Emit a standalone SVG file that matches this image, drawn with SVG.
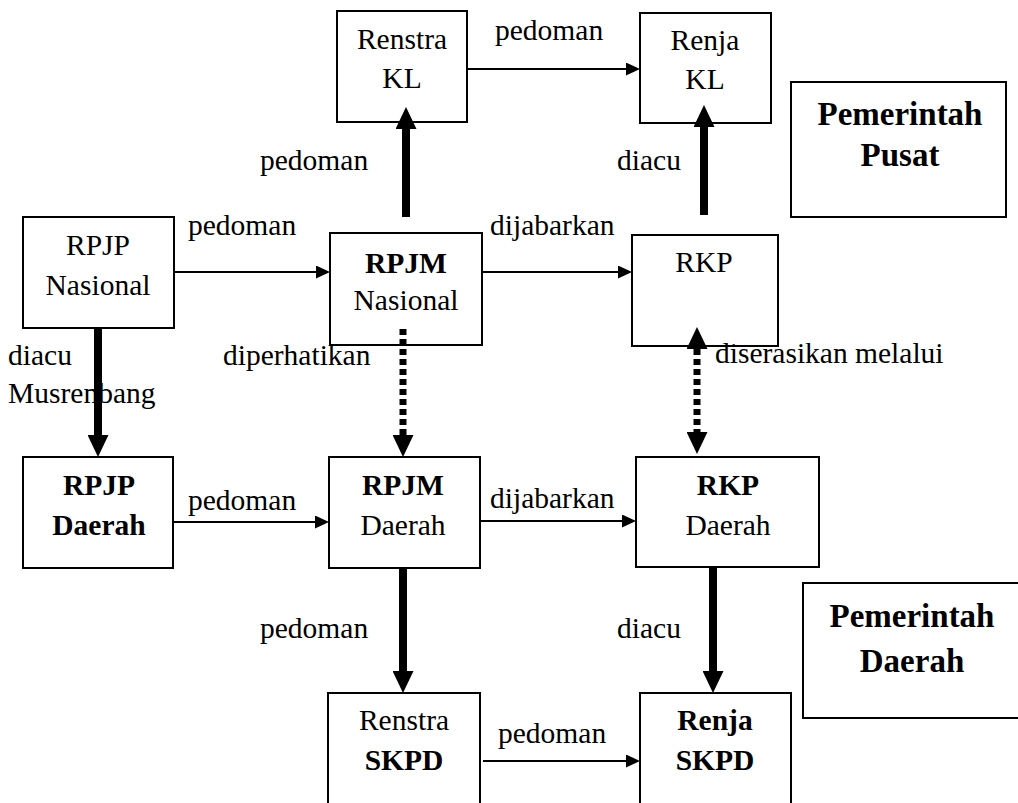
<svg xmlns="http://www.w3.org/2000/svg" width="1018" height="803" viewBox="0 0 1018 803" font-family="Liberation Serif, Times New Roman, DejaVu Serif, serif">
<style>
text{font-size:29.5px;fill:#000}
.b{font-weight:bold}
.big{font-weight:bold;font-size:33px}
.c{text-anchor:middle}
rect{fill:#fff;stroke:#000;stroke-width:2}
.thin{stroke:#000;stroke-width:2;fill:none}
.thick{stroke:#000;stroke-width:8;fill:none}
.dot{stroke:#000;stroke-width:7;fill:none;stroke-dasharray:6 4}
</style>
<defs>
<marker id="ah" markerUnits="userSpaceOnUse" markerWidth="14" markerHeight="13" refX="0" refY="6.5" orient="auto"><path d="M0,0 L14,6.5 L0,13 z" fill="#000"/></marker>
<marker id="AH" markerUnits="userSpaceOnUse" markerWidth="22" markerHeight="21" refX="0" refY="10.5" orient="auto-start-reverse"><path d="M0,0 L22,10.5 L0,21 z" fill="#000"/></marker>
</defs>
<rect width="1018" height="803" style="fill:#fff;stroke:none"/>

<g id="renstra-kl"><rect x="337" y="11" width="130" height="111"/><text class="c" x="402" y="49">Renstra</text><text class="c" x="402" y="88">KL</text></g>
<g id="renja-kl"><rect x="640" y="13" width="131" height="110"/><text class="c" x="705" y="50">Renja</text><text class="c" x="705" y="89">KL</text></g>
<g id="pemerintah-pusat"><rect x="791" y="82" width="215" height="135"/><text class="c big" x="900" y="125">Pemerintah</text><text class="c big" x="900" y="166">Pusat</text></g>
<g id="rpjp-nasional"><rect x="23" y="217" width="151" height="111"/><text class="c" x="98" y="255">RPJP</text><text class="c" x="98" y="295">Nasional</text></g>
<g id="rpjm-nasional"><rect x="330" y="233" width="152" height="112"/><text class="c b" x="406" y="273">RPJM</text><text class="c" x="406" y="310">Nasional</text></g>
<g id="rkp"><rect x="632" y="235" width="146" height="111"/><text class="c" x="704" y="272">RKP</text></g>
<g id="rpjp-daerah"><rect x="23" y="457" width="150" height="111"/><text class="c b" x="99" y="495">RPJP</text><text class="c b" x="99" y="535">Daerah</text></g>
<g id="rpjm-daerah"><rect x="329" y="457" width="151" height="111"/><text class="c b" x="403" y="495">RPJM</text><text class="c" x="403" y="535">Daerah</text></g>
<g id="rkp-daerah"><rect x="636" y="457" width="183" height="110"/><text class="c b" x="728" y="495">RKP</text><text class="c" x="728" y="535">Daerah</text></g>
<g id="pemerintah-daerah"><rect x="803" y="583" width="230" height="135"/><text class="c big" x="912" y="627">Pemerintah</text><text class="c big" x="912" y="672">Daerah</text></g>
<g id="renstra-skpd"><rect x="328" y="693" width="152" height="130"/><text class="c" x="404" y="730">Renstra</text><text class="c b" x="404" y="770">SKPD</text></g>
<g id="renja-skpd"><rect x="640" y="693" width="151" height="130"/><text class="c b" x="715" y="730">Renja</text><text class="c b" x="715" y="770">SKPD</text></g>

<g id="labels">
<text x="495" y="40">pedoman</text>
<text x="260" y="170">pedoman</text>
<text x="617" y="170">diacu</text>
<text x="188" y="235">pedoman</text>
<text x="490" y="235">dijabarkan</text>
<text x="8" y="365">diacu</text>
<text x="8" y="403">Musrenbang</text>
<text x="223" y="365">diperhatikan</text>
<text x="715" y="363">diserasikan melalui</text>
<text x="188" y="510">pedoman</text>
<text x="490" y="508">dijabarkan</text>
<text x="260" y="638">pedoman</text>
<text x="617" y="638">diacu</text>
<text x="498" y="743">pedoman</text>
</g>

<g id="connectors">
<line class="thin" x1="467" y1="69" x2="626" y2="69" marker-end="url(#ah)"/>
<line class="thin" x1="174" y1="272" x2="316" y2="272" marker-end="url(#ah)"/>
<line class="thin" x1="482" y1="272" x2="618" y2="272" marker-end="url(#ah)"/>
<line class="thin" x1="173" y1="522" x2="315" y2="522" marker-end="url(#ah)"/>
<line class="thin" x1="480" y1="521" x2="622" y2="521" marker-end="url(#ah)"/>
<line class="thin" x1="483" y1="761" x2="626" y2="761" marker-end="url(#ah)"/>
<line class="thick" x1="406" y1="217" x2="406" y2="129" marker-end="url(#AH)"/>
<line class="thick" x1="704" y1="215" x2="704" y2="127" marker-end="url(#AH)"/>
<line class="thick" x1="98" y1="328" x2="98" y2="435" marker-end="url(#AH)"/>
<line class="thick" x1="403" y1="567" x2="403" y2="671" marker-end="url(#AH)"/>
<line class="thick" x1="713" y1="567" x2="713" y2="671" marker-end="url(#AH)"/>
<line class="dot" x1="403" y1="329" x2="403" y2="435" marker-end="url(#AH)"/>
<line class="dot" x1="697" y1="349" x2="697" y2="432" marker-start="url(#AH)" marker-end="url(#AH)"/>
</g>
</svg>
